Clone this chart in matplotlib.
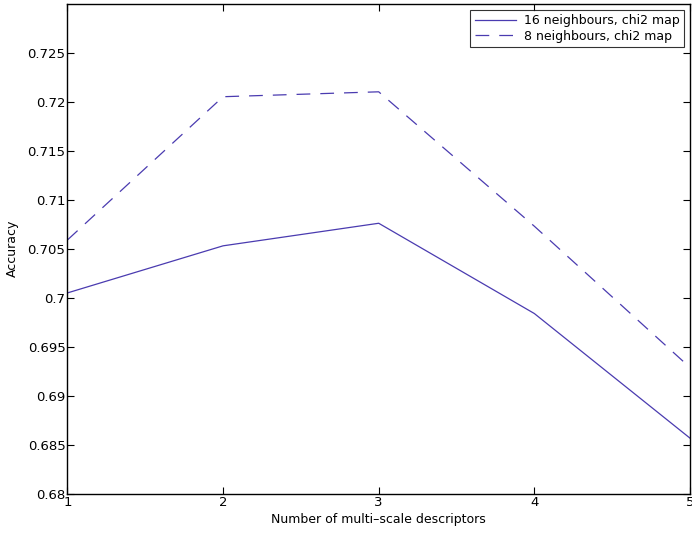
import matplotlib
matplotlib.use("Agg")
import matplotlib.pyplot as plt

n_desc = [1, 2, 3, 4, 5]
acc_16 = [0.7005, 0.7053, 0.7076, 0.6984, 0.6857]
acc_8 = [0.7059, 0.7205, 0.7210, 0.7073, 0.6929]
y_ticks = [0.68, 0.685, 0.69, 0.695, 0.7, 0.705, 0.71, 0.715, 0.72, 0.725]
y_labels = ['0.68', '0.685', '0.69', '0.695', '0.7', '0.705', '0.71', '0.715', '0.72', '0.725']

line_color = '#4a3bb0'

fig = plt.figure(figsize=(6.92, 5.34), dpi=100)
ax = fig.add_axes([0.0975, 0.0749, 0.8995, 0.9185])

ax.plot(n_desc, acc_16, color=line_color, linestyle='-', linewidth=0.9, label='16 neighbours, chi2 map')
ax.plot(n_desc, acc_8, color=line_color, linestyle=(0, (11, 8)), linewidth=0.9, label='8 neighbours, chi2 map')

ax.set_xlim(1, 5)
ax.set_ylim(0.68, 0.73)
ax.set_xticks(n_desc)
ax.set_yticks(y_ticks)
ax.set_yticklabels(y_labels)
ax.tick_params(direction='in', top=True, right=True, labelsize=9.5, length=5, width=0.8, pad=1.5)
for s in ax.spines.values():
    s.set_linewidth(1.0)

ax.set_xlabel('Number of multi\u2013scale descriptors', fontsize=9, labelpad=3)
ax.set_ylabel('Accuracy', fontsize=9, labelpad=6)

leg = ax.legend(loc='upper right', fontsize=9, frameon=True, fancybox=False,
                borderaxespad=0.5, handlelength=3.3, handletextpad=0.6,
                borderpad=0.35, labelspacing=0.2)
leg.get_frame().set_edgecolor('black')
leg.get_frame().set_linewidth(0.8)

fig.savefig('out.png', dpi=100)
